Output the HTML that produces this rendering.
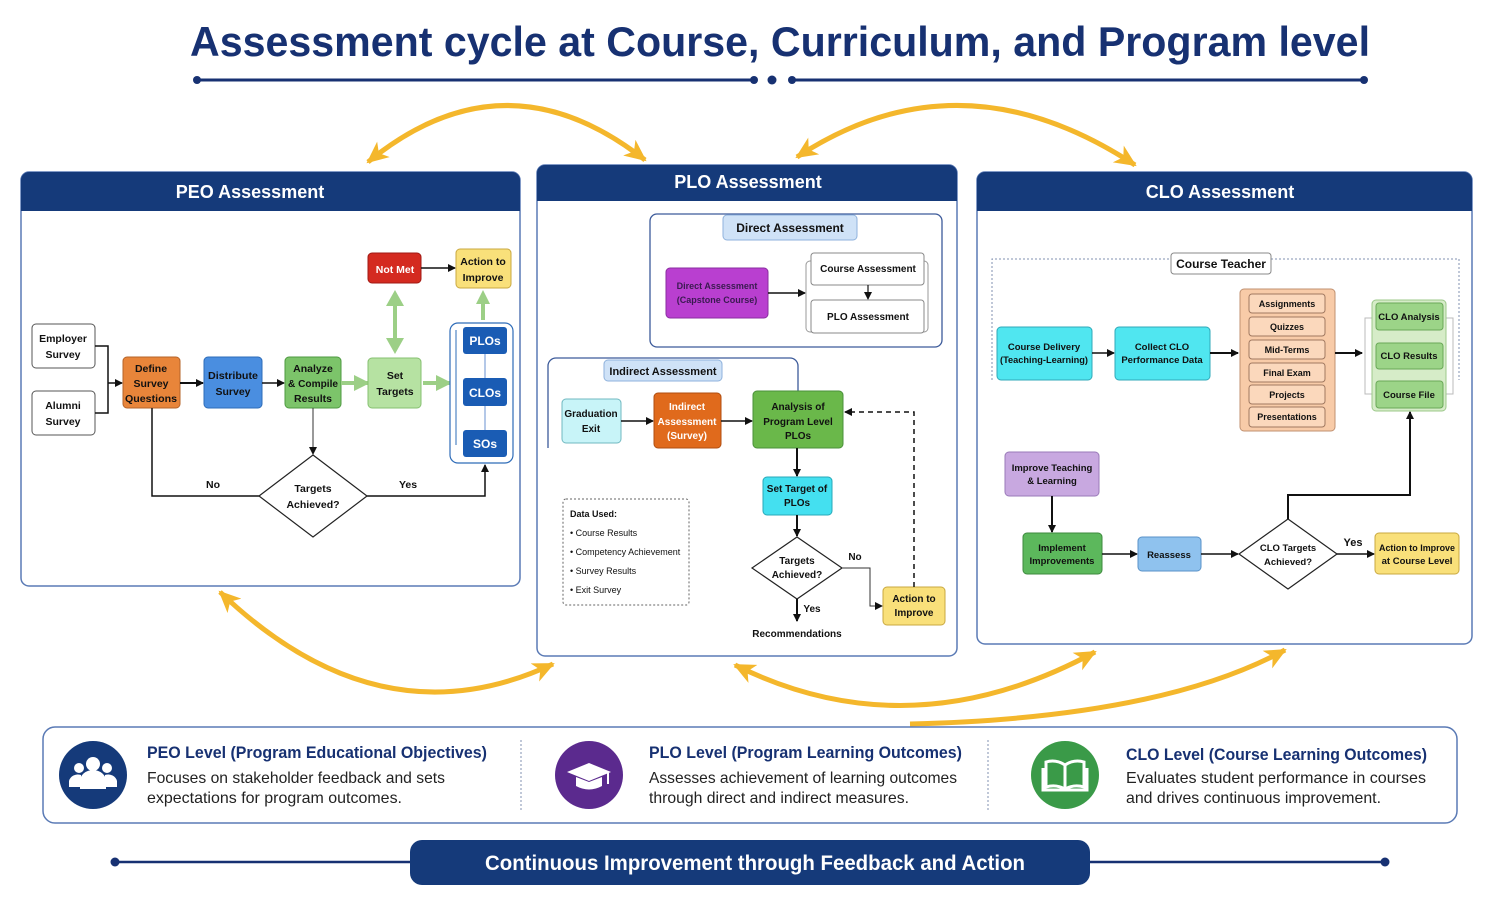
<!DOCTYPE html>
<html><head><meta charset="utf-8"><style>
html,body{margin:0;padding:0;background:#fff;}
svg{display:block;font-family:"Liberation Sans",sans-serif;}
.b{font-weight:bold;}
</style></head><body>
<svg width="1500" height="897" viewBox="0 0 1500 897" xmlns="http://www.w3.org/2000/svg">
<defs>
<marker id="a" markerWidth="8" markerHeight="8" refX="7" refY="4" orient="auto" markerUnits="userSpaceOnUse"><path d="M0,0 L8,4 L0,8 z" fill="#111"/></marker>
<marker id="y" markerWidth="24" markerHeight="20" refX="20" refY="10" orient="auto-start-reverse" markerUnits="userSpaceOnUse"><path d="M0,0 L22,10 L0,20 L6,10 z" fill="#f4b72c"/></marker>
<marker id="g" markerWidth="16" markerHeight="16" refX="14" refY="8" orient="auto" markerUnits="userSpaceOnUse"><path d="M0,0 L16,8 L0,16 z" fill="#9ccf86"/></marker>
</defs>
<rect width="1500" height="897" fill="#fff"/>

<!-- Title -->
<text x="780" y="56" text-anchor="middle" class="b" font-size="42" fill="#173172" textLength="1180" lengthAdjust="spacingAndGlyphs">Assessment cycle at Course, Curriculum, and Program level</text>
<line x1="197" y1="80" x2="754" y2="80" stroke="#173172" stroke-width="3"/>
<circle cx="197" cy="80" r="4" fill="#173172"/><circle cx="754" cy="80" r="4" fill="#173172"/>
<circle cx="772" cy="80" r="4.5" fill="#173172"/>
<line x1="792" y1="80" x2="1364" y2="80" stroke="#173172" stroke-width="3"/>
<circle cx="792" cy="80" r="4" fill="#173172"/><circle cx="1364" cy="80" r="4" fill="#173172"/>

<!-- Yellow cycle arrows -->
<g fill="none" stroke="#f4b72c" stroke-width="5">
<path d="M368,162 Q505,50 645,160" marker-start="url(#y)" marker-end="url(#y)"/>
<path d="M797,157 Q960,50 1135,165" marker-start="url(#y)" marker-end="url(#y)"/>
<path d="M220,592 Q380,745 553,664" marker-start="url(#y)" marker-end="url(#y)"/>
<path d="M735,665 Q910,752 1095,652" marker-start="url(#y)" marker-end="url(#y)"/>
<path d="M910,724 Q1160,718 1285,650" marker-end="url(#y)"/>
</g>

<!-- Panels -->
<g>
<rect x="21" y="172" width="499" height="414" rx="8" fill="#fff" stroke="#5a7ab5" stroke-width="1.5"/>
<path d="M21,211 V180 a8,8 0 0 1 8,-8 H512 a8,8 0 0 1 8,8 V211 z" fill="#153a7a"/>
<text x="250" y="198" text-anchor="middle" class="b" font-size="18" fill="#fff">PEO Assessment</text>

<rect x="537" y="165" width="420" height="491" rx="8" fill="#fff" stroke="#5a7ab5" stroke-width="1.5"/>
<path d="M537,201 V173 a8,8 0 0 1 8,-8 H949 a8,8 0 0 1 8,8 V201 z" fill="#153a7a"/>
<text x="748" y="188" text-anchor="middle" class="b" font-size="18" fill="#fff">PLO Assessment</text>

<rect x="977" y="172" width="495" height="472" rx="8" fill="#fff" stroke="#5a7ab5" stroke-width="1.5"/>
<path d="M977,211 V180 a8,8 0 0 1 8,-8 H1464 a8,8 0 0 1 8,8 V211 z" fill="#153a7a"/>
<text x="1220" y="198" text-anchor="middle" class="b" font-size="18" fill="#fff">CLO Assessment</text>
</g>

<!-- PEO content -->
<g font-size="10.5" class="b" text-anchor="middle" fill="#111">
<rect x="32" y="324" width="63" height="44" rx="4" fill="#fff" stroke="#555"/>
<text x="63" y="342">Employer</text><text x="63" y="358">Survey</text>
<rect x="32" y="391" width="63" height="44" rx="4" fill="#fff" stroke="#555"/>
<text x="63" y="409">Alumni</text><text x="63" y="425">Survey</text>
<path d="M95,346 H108 V413 H95 M108,383 H122" fill="none" stroke="#111" stroke-width="1.5" marker-end="url(#a)"/>

<rect x="123" y="357" width="57" height="51" rx="4" fill="#e8853a" stroke="#b5642a"/>
<text x="151" y="372">Define</text><text x="151" y="387">Survey</text><text x="151" y="402" textLength="52" lengthAdjust="spacingAndGlyphs">Questions</text>
<line x1="180" y1="383" x2="203" y2="383" stroke="#111" stroke-width="2" marker-end="url(#a)"/>
<rect x="204" y="357" width="58" height="51" rx="4" fill="#4a8ee0" stroke="#2e6cb8"/>
<text x="233" y="379" textLength="50" lengthAdjust="spacingAndGlyphs">Distribute</text><text x="233" y="395">Survey</text>
<line x1="262" y1="383" x2="284" y2="383" stroke="#111" stroke-width="1.5" marker-end="url(#a)"/>
<rect x="285" y="357" width="56" height="51" rx="4" fill="#7cc46a" stroke="#4e9a40"/>
<text x="313" y="372">Analyze</text><text x="313" y="387" textLength="50" lengthAdjust="spacingAndGlyphs">&amp; Compile</text><text x="313" y="402">Results</text>
<line x1="341" y1="383" x2="368" y2="383" stroke="#9ccf86" stroke-width="4" marker-end="url(#g)"/>
<rect x="368" y="358" width="53" height="50" rx="4" fill="#b6e2a2" stroke="#86c070"/>
<text x="395" y="379">Set</text><text x="395" y="395">Targets</text>
<line x1="423" y1="383" x2="450" y2="383" stroke="#9ccf86" stroke-width="4" marker-end="url(#g)"/>

<line x1="395" y1="306" x2="395" y2="338" stroke="#9ccf86" stroke-width="4"/>
<path d="M386,306 L395,290 L404,306 z M386,338 L395,354 L404,338 z" fill="#9ccf86"/>
<rect x="368" y="253" width="53" height="30" rx="4" fill="#d42a20" stroke="#a01a14"/>
<text x="395" y="273" fill="#fff">Not Met</text>
<line x1="421" y1="268" x2="455" y2="268" stroke="#111" stroke-width="1.5" marker-end="url(#a)"/>
<rect x="456" y="249" width="55" height="39" rx="4" fill="#f9e07a" stroke="#c9a840"/>
<text x="483" y="265">Action to</text><text x="483" y="281">Improve</text>
<line x1="483" y1="320" x2="483" y2="304" stroke="#9ccf86" stroke-width="4"/>
<path d="M476,304 L483,290 L490,304 z" fill="#9ccf86"/>

<rect x="450" y="323" width="63" height="140" rx="8" fill="#fff" stroke="#2e6cb8" stroke-width="1.2"/>
<line x1="456" y1="330" x2="456" y2="445" stroke="#2e6cb8"/>
<line x1="485" y1="354" x2="485" y2="430" stroke="#6a90d0"/>
<rect x="463" y="327" width="44" height="27" rx="3" fill="#1a5cb4"/>
<text x="485" y="345" fill="#fff" font-size="12">PLOs</text>
<rect x="463" y="378" width="44" height="28" rx="3" fill="#1a5cb4"/>
<text x="485" y="397" fill="#fff" font-size="12">CLOs</text>
<rect x="463" y="430" width="44" height="27" rx="3" fill="#1a5cb4"/>
<text x="485" y="448" fill="#fff" font-size="12">SOs</text>

<line x1="313" y1="408" x2="313" y2="454" stroke="#333" stroke-width="1" marker-end="url(#a)"/>
<path d="M152,408 V496 H259" fill="none" stroke="#111" stroke-width="1.5"/>
<path d="M367,496 H485 V465" fill="none" stroke="#111" stroke-width="1.5" marker-end="url(#a)"/>
<polygon points="313,455 367,496 313,537 259,496" fill="#fff" stroke="#222" stroke-width="1.2"/>
<text x="313" y="492">Targets</text><text x="313" y="508">Achieved?</text>
<text x="213" y="488">No</text><text x="408" y="488">Yes</text>
</g>

<!-- PLO content -->
<g font-size="10" class="b" text-anchor="middle" fill="#111">
<rect x="650" y="214" width="292" height="133" rx="7" fill="#fff" stroke="#3c5a9a" stroke-width="1.3"/>
<rect x="723" y="215" width="134" height="25" rx="4" fill="#cfe2f7" stroke="#8fb2dc"/>
<text x="790" y="232" font-size="12">Direct Assessment</text>
<rect x="666" y="268" width="102" height="50" rx="4" fill="#b93fd0" stroke="#8a2ea0"/>
<text x="717" y="289" font-size="9" fill="#3a1a50">Direct Assessment</text>
<text x="717" y="303" font-size="9" fill="#3a1a50">(Capstone Course)</text>
<line x1="768" y1="293" x2="805" y2="293" stroke="#111" stroke-width="1.5" marker-end="url(#a)"/>
<rect x="806" y="261" width="122" height="71" rx="4" fill="#fff" stroke="#999"/>
<rect x="811" y="253" width="113" height="32" rx="3" fill="#fff" stroke="#888"/>
<text x="868" y="272">Course Assessment</text>
<line x1="868" y1="285" x2="868" y2="299" stroke="#111" stroke-width="1.2" marker-end="url(#a)"/>
<rect x="811" y="300" width="113" height="33" rx="3" fill="#fff" stroke="#888"/>
<text x="868" y="320">PLO Assessment</text>

<path d="M548,448 V366 a8,8 0 0 1 8,-8 H790 a8,8 0 0 1 8,8 V391" fill="none" stroke="#3c5a9a" stroke-width="1.3"/>
<rect x="604" y="360" width="118" height="21" rx="4" fill="#cfe2f7" stroke="#8fb2dc"/>
<text x="663" y="375" font-size="11">Indirect Assessment</text>
<rect x="562" y="399" width="59" height="44" rx="4" fill="#c8f4f8" stroke="#70b8c0"/>
<text x="591" y="417">Graduation</text><text x="591" y="432">Exit</text>
<line x1="621" y1="421" x2="653" y2="421" stroke="#111" stroke-width="1.5" marker-end="url(#a)"/>
<rect x="654" y="393" width="67" height="55" rx="4" fill="#e06a1c" stroke="#b04e10"/>
<text x="687" y="410" fill="#fff">Indirect</text><text x="687" y="425" fill="#fff">Assessment</text><text x="687" y="439" fill="#fff">(Survey)</text>
<line x1="721" y1="421" x2="752" y2="421" stroke="#111" stroke-width="1.5" marker-end="url(#a)"/>
<rect x="753" y="391" width="90" height="57" rx="4" fill="#6ab84a" stroke="#4a903a"/>
<text x="798" y="410">Analysis of</text><text x="798" y="425">Program Level</text><text x="798" y="439">PLOs</text>
<line x1="797" y1="448" x2="797" y2="476" stroke="#111" stroke-width="2" marker-end="url(#a)"/>
<rect x="763" y="477" width="69" height="38" rx="4" fill="#44e0f0" stroke="#28a8b8"/>
<text x="797" y="492">Set Target of</text><text x="797" y="506">PLOs</text>
<line x1="797" y1="515" x2="797" y2="536" stroke="#111" stroke-width="2" marker-end="url(#a)"/>
<polygon points="797,537 842,568 797,599 752,568" fill="#fff" stroke="#222" stroke-width="1.2"/>
<text x="797" y="564">Targets</text><text x="797" y="578">Achieved?</text>
<path d="M842,568 H870 V606 H882" fill="none" stroke="#333" stroke-width="1" marker-end="url(#a)"/>
<text x="855" y="560">No</text>
<line x1="797" y1="599" x2="797" y2="621" stroke="#111" stroke-width="2" marker-end="url(#a)"/>
<text x="812" y="612">Yes</text>
<text x="797" y="637">Recommendations</text>
<rect x="883" y="587" width="62" height="38" rx="4" fill="#f9e07a" stroke="#c9a840"/>
<text x="914" y="602">Action to</text><text x="914" y="616">Improve</text>
<path d="M914,587 V412 H845" fill="none" stroke="#111" stroke-width="1.5" stroke-dasharray="5,4" marker-end="url(#a)"/>

<rect x="563" y="499" width="126" height="106" rx="3" fill="#fff" stroke="#666" stroke-dasharray="2,2"/>
<g text-anchor="start" font-weight="normal" font-size="9">
<text x="570" y="517" font-weight="bold">Data Used:</text>
<text x="570" y="536">• Course Results</text>
<text x="570" y="555">• Competency Achievement</text>
<text x="570" y="574">• Survey Results</text>
<text x="570" y="593">• Exit Survey</text>
</g>
</g>

<!-- CLO content -->
<g font-size="9.5" class="b" text-anchor="middle" fill="#111">
<path d="M992,380 V259 H1459 V380" fill="none" stroke="#8090b0" stroke-dasharray="2,2"/>
<rect x="1171" y="253" width="100" height="21" rx="3" fill="#fff" stroke="#888"/>
<text x="1221" y="268" font-size="12">Course Teacher</text>
<rect x="997" y="327" width="95" height="53" rx="4" fill="#50e6f0" stroke="#30a8b8"/>
<text x="1044" y="350">Course Delivery</text><text x="1044" y="363" textLength="88" lengthAdjust="spacingAndGlyphs">(Teaching-Learning)</text>
<line x1="1092" y1="353" x2="1114" y2="353" stroke="#111" stroke-width="1.5" marker-end="url(#a)"/>
<rect x="1115" y="327" width="95" height="53" rx="4" fill="#50e6f0" stroke="#30a8b8"/>
<text x="1162" y="350">Collect CLO</text><text x="1162" y="363">Performance Data</text>
<line x1="1210" y1="353" x2="1238" y2="353" stroke="#111" stroke-width="2" marker-end="url(#a)"/>
<rect x="1240" y="289" width="95" height="142" rx="4" fill="#f8cba8" stroke="#c09070"/>
<g font-size="9">
<rect x="1249" y="294" width="76" height="19" rx="3" fill="#fbd8bc" stroke="#a07860"/><text x="1287" y="307">Assignments</text>
<rect x="1249" y="317" width="76" height="19" rx="3" fill="#fbd8bc" stroke="#a07860"/><text x="1287" y="330">Quizzes</text>
<rect x="1249" y="340" width="76" height="19" rx="3" fill="#fbd8bc" stroke="#a07860"/><text x="1287" y="353">Mid-Terms</text>
<rect x="1249" y="363" width="76" height="19" rx="3" fill="#fbd8bc" stroke="#a07860"/><text x="1287" y="376">Final Exam</text>
<rect x="1249" y="385" width="76" height="19" rx="3" fill="#fbd8bc" stroke="#a07860"/><text x="1287" y="398">Projects</text>
<rect x="1249" y="407" width="76" height="20" rx="3" fill="#fbd8bc" stroke="#a07860"/><text x="1287" y="420">Presentations</text>
</g>
<line x1="1335" y1="353" x2="1362" y2="353" stroke="#111" stroke-width="2" marker-end="url(#a)"/>
<path d="M1372,318 H1365 V394 H1372 M1446,318 H1453 V394 H1446" fill="none" stroke="#bbb"/>
<rect x="1372" y="300" width="74" height="111" rx="4" fill="#d6ecc8" stroke="#9cc88a"/>
<rect x="1376" y="303" width="67" height="27" rx="3" fill="#9cd488" stroke="#6aa858"/><text x="1409" y="320">CLO Analysis</text>
<rect x="1376" y="343" width="67" height="26" rx="3" fill="#9cd488" stroke="#6aa858"/><text x="1409" y="359">CLO Results</text>
<rect x="1376" y="381" width="67" height="27" rx="3" fill="#9cd488" stroke="#6aa858"/><text x="1409" y="398">Course File</text>

<rect x="1005" y="452" width="94" height="44" rx="4" fill="#c8a8e0" stroke="#9a7ab8"/>
<text x="1052" y="471">Improve Teaching</text><text x="1052" y="484">&amp; Learning</text>
<line x1="1052" y1="496" x2="1052" y2="532" stroke="#111" stroke-width="2" marker-end="url(#a)"/>
<rect x="1023" y="533" width="79" height="41" rx="4" fill="#5cb85c" stroke="#3e8a3e"/>
<text x="1062" y="551">Implement</text><text x="1062" y="564">Improvements</text>
<line x1="1102" y1="554" x2="1137" y2="554" stroke="#111" stroke-width="1.5" marker-end="url(#a)"/>
<rect x="1138" y="537" width="63" height="34" rx="4" fill="#8fc2ee" stroke="#5a92c8"/>
<text x="1169" y="558">Reassess</text>
<line x1="1201" y1="554" x2="1238" y2="554" stroke="#111" stroke-width="1.5" marker-end="url(#a)"/>
<polygon points="1288,519 1337,554 1288,589 1239,554" fill="#fff" stroke="#222" stroke-width="1.2"/>
<text x="1288" y="551">CLO Targets</text><text x="1288" y="565">Achieved?</text>
<line x1="1337" y1="554" x2="1374" y2="554" stroke="#111" stroke-width="1.5" marker-end="url(#a)"/>
<text x="1353" y="546" font-size="11">Yes</text>
<path d="M1288,519 V495 H1410 V412" fill="none" stroke="#111" stroke-width="2" marker-end="url(#a)"/>
<rect x="1375" y="533" width="84" height="41" rx="4" fill="#f9e07a" stroke="#c9a840"/>
<text x="1417" y="551" textLength="76" lengthAdjust="spacingAndGlyphs">Action to Improve</text><text x="1417" y="564">at Course Level</text>
</g>

<!-- Info box -->
<rect x="43" y="727" width="1414" height="96" rx="12" fill="#fff" stroke="#5a7ab5" stroke-width="1.5"/>
<line x1="521" y1="740" x2="521" y2="812" stroke="#8090b0" stroke-dasharray="2,2"/>
<line x1="988" y1="740" x2="988" y2="812" stroke="#8090b0" stroke-dasharray="2,2"/>
<circle cx="93" cy="775" r="34" fill="#153a7a"/>
<g fill="#fff">
<circle cx="93" cy="764" r="7"/><circle cx="79" cy="768" r="5"/><circle cx="107" cy="768" r="5"/>
<path d="M80,789 v-8 a13,11 0 0 1 26,0 v8 z"/>
<path d="M69,787 v-6 a9,8 0 0 1 12,-6 v12 z M117,787 v-6 a9,8 0 0 0 -12,-6 v12 z"/>
</g>
<circle cx="589" cy="775" r="34" fill="#5b2a8e"/>
<g fill="#fff"><path d="M567,772 L589,763 L611,772 L589,781 z"/><path d="M576,777 v9 q13,7 26,0 v-9 l-13,5 z"/><rect x="607" y="773" width="2" height="11"/></g>
<circle cx="1065" cy="775" r="34" fill="#3a9a48"/>
<g fill="none" stroke="#fff" stroke-width="3"><path d="M1046,762 q10,-3 19,3 v24 q-9,-5 -19,-2 z"/><path d="M1084,762 q-10,-3 -19,3 v24 q9,-5 19,-2 z"/><path d="M1043,768 v22 h44 v-22"/></g>
<g font-size="17" class="b" fill="#173172" lengthAdjust="spacingAndGlyphs">
<text x="147" y="758" textLength="340" lengthAdjust="spacingAndGlyphs">PEO Level (Program Educational Objectives)</text>
<text x="649" y="758" textLength="313" lengthAdjust="spacingAndGlyphs">PLO Level (Program Learning Outcomes)</text>
<text x="1126" y="760" textLength="301" lengthAdjust="spacingAndGlyphs">CLO Level (Course Learning Outcomes)</text>
</g>
<g font-size="16" fill="#222">
<text x="147" y="783" textLength="298" lengthAdjust="spacingAndGlyphs">Focuses on stakeholder feedback and sets</text>
<text x="147" y="803" textLength="255" lengthAdjust="spacingAndGlyphs">expectations for program outcomes.</text>
<text x="649" y="783" textLength="308" lengthAdjust="spacingAndGlyphs">Assesses achievement of learning outcomes</text>
<text x="649" y="803" textLength="260" lengthAdjust="spacingAndGlyphs">through direct and indirect measures.</text>
<text x="1126" y="783" textLength="300" lengthAdjust="spacingAndGlyphs">Evaluates student performance in courses</text>
<text x="1126" y="803" textLength="255" lengthAdjust="spacingAndGlyphs">and drives continuous improvement.</text>
</g>

<!-- Bottom banner -->
<line x1="115" y1="862" x2="410" y2="862" stroke="#173172" stroke-width="2.5"/>
<circle cx="115" cy="862" r="4.5" fill="#173172"/>
<line x1="1090" y1="862" x2="1385" y2="862" stroke="#173172" stroke-width="2.5"/>
<circle cx="1385" cy="862" r="4.5" fill="#173172"/>
<rect x="410" y="840" width="680" height="45" rx="12" fill="#153a7a"/>
<text x="755" y="870" text-anchor="middle" class="b" font-size="21" fill="#fff" textLength="540" lengthAdjust="spacingAndGlyphs">Continuous Improvement through Feedback and Action</text>
</svg>
</body></html>
